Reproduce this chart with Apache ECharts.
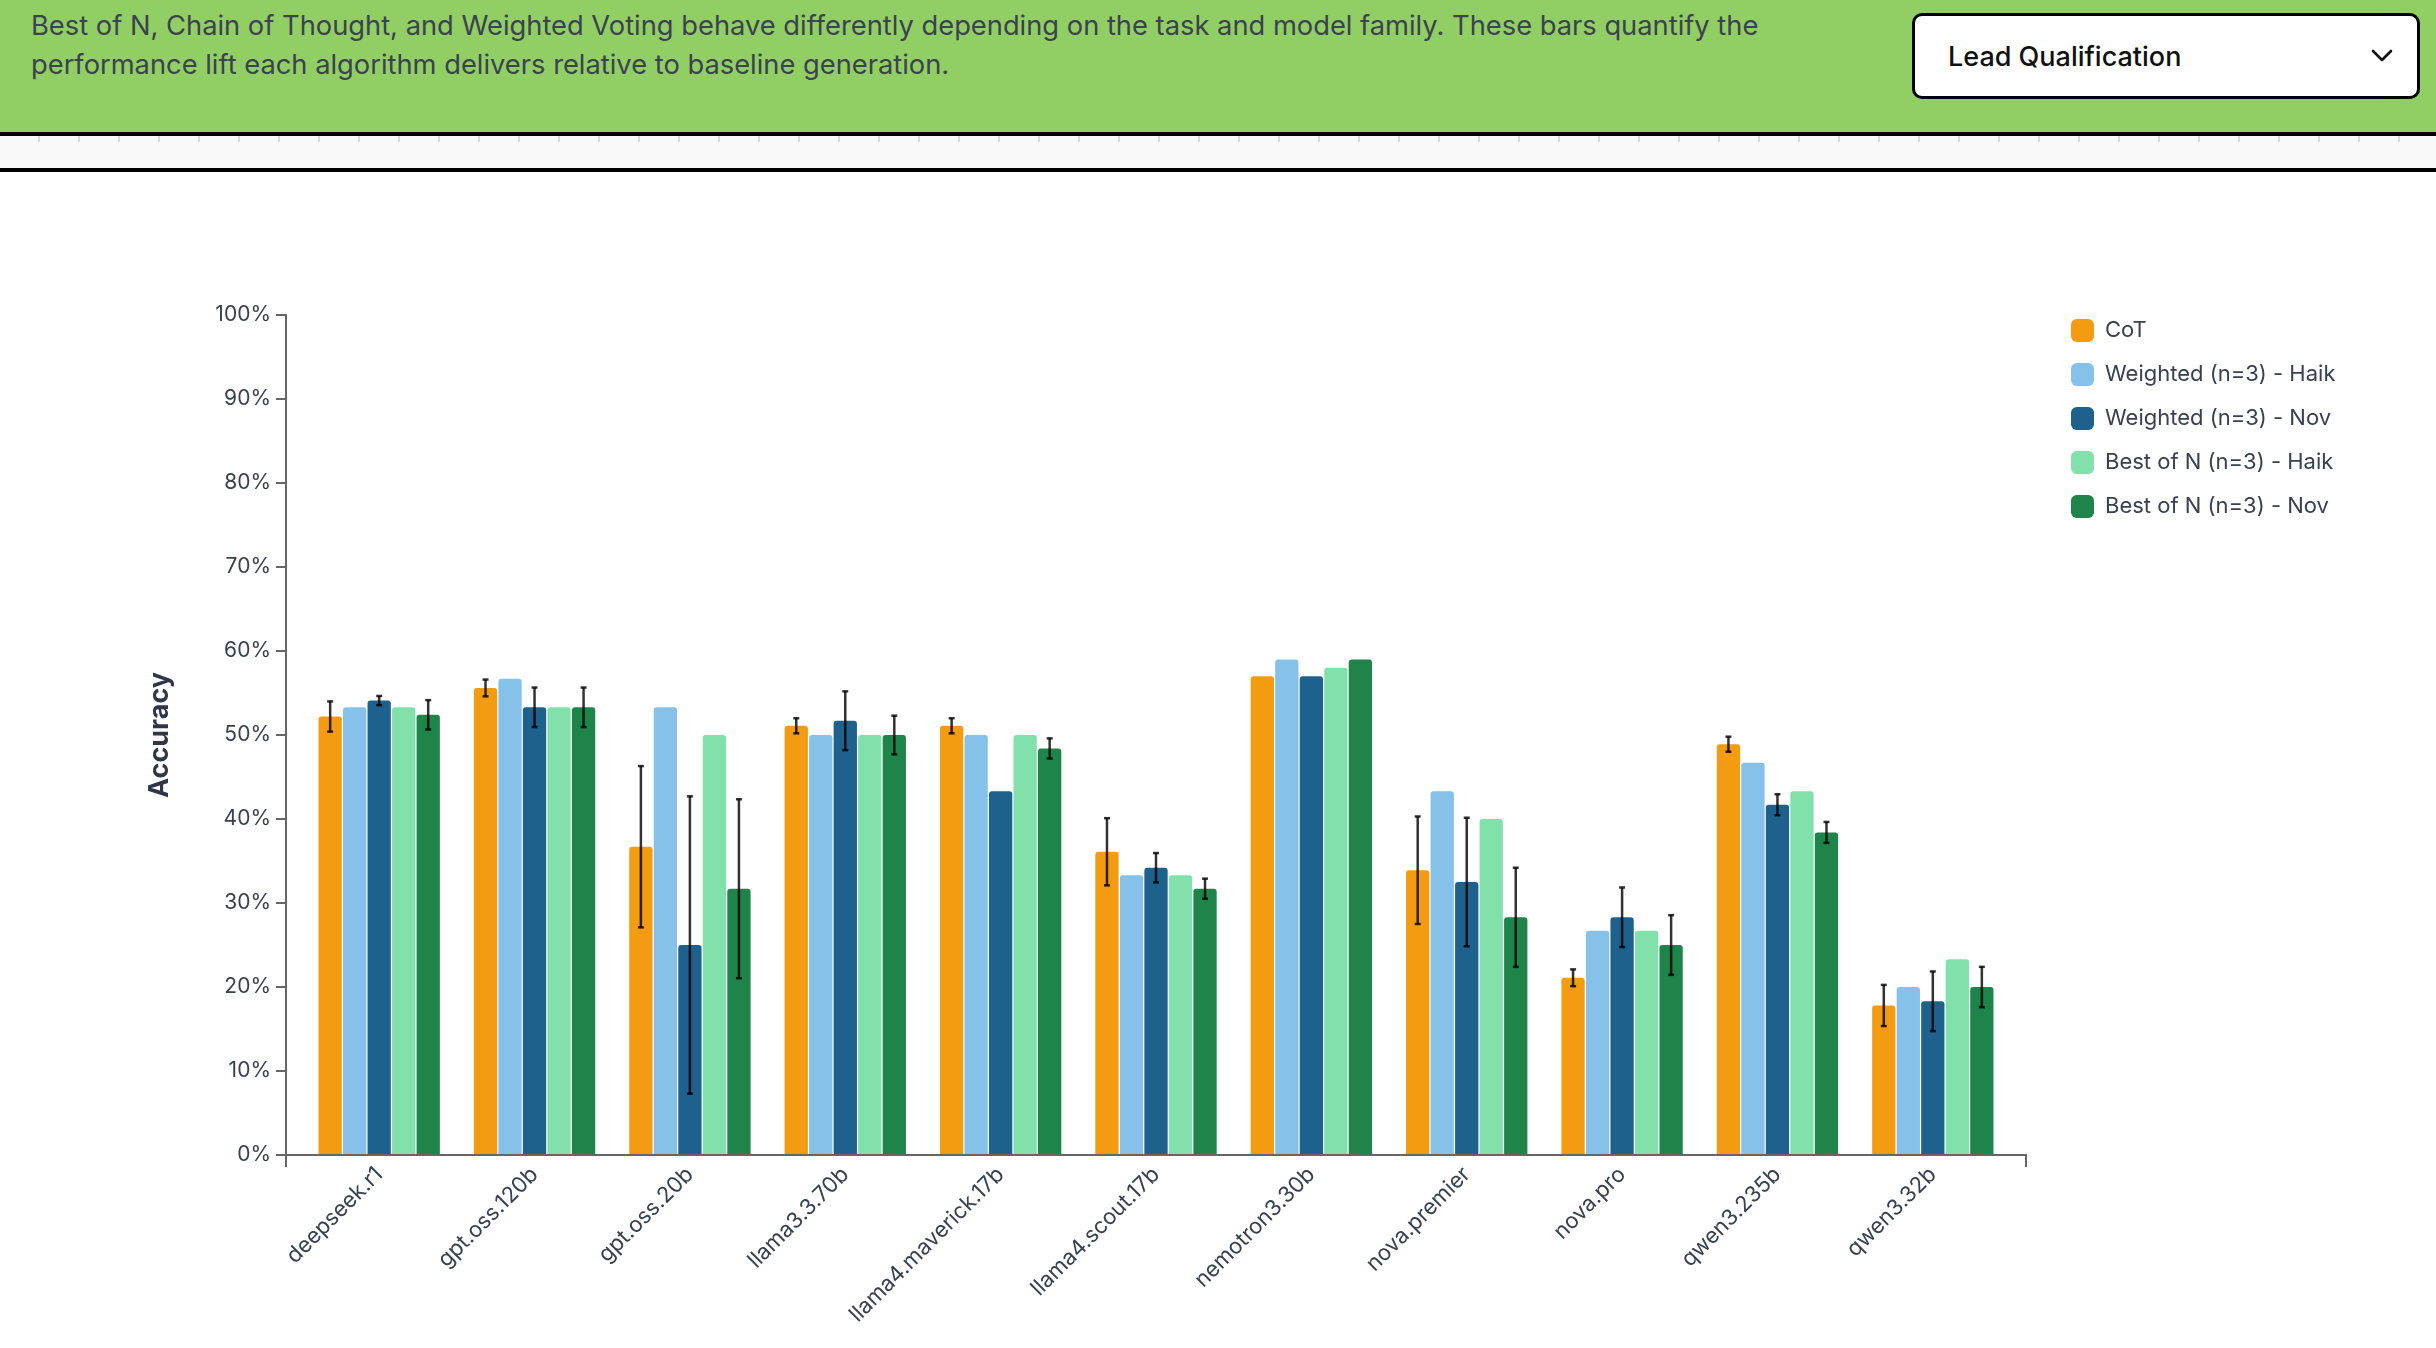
<!DOCTYPE html>
<html>
<head>
<meta charset="utf-8">
<title>Lead Qualification</title>
<script src="https://cdn.jsdelivr.net/npm/echarts@6/dist/echarts.min.js"></script>
<style>
  html, body { margin: 0; padding: 0; background: #fff; font-family: Inter, "Noto Sans", sans-serif; }
  #main { position: absolute; left: 0; top: 0; width: 2436px; height: 1348px; }
  .banner { position: absolute; left: 0; top: 0; width: 2436px; height: 132px; background: #91cf64; z-index: 2; }
  .banner p { position: absolute; left: 31px; top: 6px; margin: 0; width: 1790px; font-size: 27.3px; line-height: 39px; color: #3b4250; }
  .select { position: absolute; left: 1912px; top: 13px; width: 508px; height: 86px; background: #fff;
            border: 3px solid #000; border-radius: 10px; box-sizing: border-box; }
  .select span { position: absolute; left: 33px; top: 24px; font-size: 27px; font-weight: 500; color: #111; }
  .select svg { position: absolute; right: 24px; top: 33px; }
  .rule1 { position: absolute; left: 0; top: 132px; width: 2436px; height: 4px; background: #000; z-index: 2; }
  .strip { position: absolute; left: 0; top: 136px; width: 2436px; height: 32px; z-index: 2;
           background: repeating-linear-gradient(90deg, transparent 0 38px, #d8d8d8 38px 40px) top/100% 6px no-repeat, #f9f9f9; }
  .rule2 { position: absolute; left: 0; top: 168px; width: 2436px; height: 4px; background: #000; z-index: 2; }
</style>
</head>
<body>
<div id="main"></div>
<div class="banner">
  <p>Best of N, Chain of Thought, and Weighted Voting behave differently depending on the task and model family. These bars quantify the performance lift each algorithm delivers relative to baseline generation.</p>
  <div class="select"><span>Lead Qualification</span>
    <svg width="22" height="14" viewBox="0 0 22 14"><polyline points="2,2 11,11 20,2" fill="none" stroke="#111" stroke-width="2.6" stroke-linecap="round" stroke-linejoin="round"/></svg>
  </div>
</div>
<div class="rule1"></div>
<div class="strip"></div>
<div class="rule2"></div>
<script>
var models = ['deepseek.r1', 'gpt.oss.120b', 'gpt.oss.20b', 'llama3.3.70b', 'llama4.maverick.17b',
  'llama4.scout.17b', 'nemotron3.30b', 'nova.premier', 'nova.pro', 'qwen3.235b', 'qwen3.32b'];
var seriesNames = ['CoT', 'Weighted (n=3) - Haiku', 'Weighted (n=3) - Nova',
  'Best of N (n=3) - Haiku', 'Best of N (n=3) - Nova'];

// accuracy (%) and +/- error per series
var cot        = [52.2, 55.6, 36.7, 51.1, 51.1, 36.1, 57.0, 33.9, 21.1, 48.9, 17.8];
var cotErr     = [1.8, 1.0, 9.6, 0.9, 0.9, 4.0, 0, 6.4, 1.0, 0.9, 2.45];
var wHaiku     = [53.3, 56.7, 53.3, 50.0, 50.0, 33.3, 59.0, 43.3, 26.7, 46.7, 20.0];
var wHaikuErr  = [0, 0, 0, 0, 0, 0, 0, 0, 0, 0, 0];
var wNova      = [54.1, 53.3, 25.0, 51.7, 43.3, 34.2, 57.0, 32.5, 28.3, 41.7, 18.3];
var wNovaErr   = [0.55, 2.35, 17.7, 3.5, 0, 1.75, 0, 7.65, 3.55, 1.25, 3.55];
var bHaiku     = [53.3, 53.3, 50.0, 50.0, 50.0, 33.3, 58.0, 40.0, 26.7, 43.3, 23.3];
var bHaikuErr  = [0, 0, 0, 0, 0, 0, 0, 0, 0, 0, 0];
var bNova      = [52.4, 53.3, 31.7, 50.0, 48.4, 31.7, 59.0, 28.3, 25.0, 38.4, 20.0];
var bNovaErr   = [1.75, 2.35, 10.65, 2.3, 1.2, 1.2, 0, 5.9, 3.55, 1.25, 2.4];
var yTicks = [0, 100, 10];

var values = [cot, wHaiku, wNova, bHaiku, bNova];
var errors = [cotErr, wHaikuErr, wNovaErr, bHaikuErr, bNovaErr];
var colors = ['#f39c12', '#85c1e9', '#1f618d', '#82e0aa', '#1e8449'];

var W = 2436, H = 1348;
var BAR_W = 23.3, BAR_GAP = 0.052;
// outer padding of the band scale: axis line runs PAD px past the first/last band
var PAD = 15.5;
var AXIS_L = 286, AXIS_R = 2026, AXIS_B = 1155;
var GRID = { left: AXIS_L + PAD, right: W - AXIS_R + PAD, top: 315, bottom: H - AXIS_B };

function errorSeries(k) {
  var slot = BAR_W * (1 + BAR_GAP);
  var total = values.length * BAR_W + (values.length - 1) * BAR_W * BAR_GAP;
  var offset = -total / 2 + BAR_W / 2 + k * slot;
  var data = [];
  values[k].forEach(function (v, i) {
    if (errors[k][i] > 0) data.push([i, v - errors[k][i], v + errors[k][i]]);
  });
  return {
    type: 'custom',
    name: seriesNames[k] + ' err',
    data: data,
    z: 10,
    silent: true,
    renderItem: function (params, api) {
      var lo = api.coord([api.value(0), api.value(1)]);
      var hi = api.coord([api.value(0), api.value(2)]);
      var x = lo[0] + offset;
      var style = { stroke: 'rgba(0,0,0,0.8)', lineWidth: 2.5 };
      return {
        type: 'group',
        children: [
          { type: 'line', shape: { x1: x, y1: hi[1], x2: x, y2: lo[1] }, style: style },
          { type: 'line', shape: { x1: x - 3, y1: hi[1], x2: x + 3, y2: hi[1] }, style: style },
          { type: 'line', shape: { x1: x - 3, y1: lo[1], x2: x + 3, y2: lo[1] }, style: style }
        ]
      };
    }
  };
}

var series = [];
values.forEach(function (arr, k) {
  series.push({
    type: 'bar',
    name: seriesNames[k],
    data: arr,
    barWidth: BAR_W,
    barGap: (BAR_GAP * 100) + '%',
    itemStyle: { color: colors[k], borderRadius: [3, 3, 0, 0] }
  });
});
values.forEach(function (arr, k) { series.push(errorSeries(k)); });

var axisColor = '#666';
var textColor = '#374151';
var chart = echarts.init(document.getElementById('main'));
chart.setOption({
  animation: false,
  textStyle: { fontFamily: 'Inter, "Noto Sans", sans-serif' },
  grid: GRID,
  legend: {
    data: seriesNames,
    orient: 'vertical',
    left: 2066,
    top: 314,
    itemWidth: 23,
    itemHeight: 23,
    itemGap: 21,
    icon: 'roundRect',
    textStyle: { fontSize: 22, color: textColor, width: 236, overflow: 'truncate', ellipsis: '', padding: [0, 0, 0, 6] }
  },
  xAxis: {
    type: 'category',
    data: models,
    axisLine: { show: false },
    axisTick: { alignWithLabel: true, length: 12, lineStyle: { color: axisColor, width: 2 } },
    axisLabel: { rotate: 45, fontSize: 22, color: textColor, margin: 16, interval: 0 }
  },
  yAxis: {
    type: 'value',
    min: yTicks[0],
    max: yTicks[1],
    interval: yTicks[2],
    offset: PAD,
    name: 'Accuracy',
    nameLocation: 'middle',
    nameRotate: 90,
    nameGap: 113,
    nameTextStyle: { fontSize: 27, fontWeight: 'bold', color: '#2d3748' },
    splitLine: { show: false },
    axisLine: { show: true, lineStyle: { color: axisColor, width: 2 } },
    axisTick: { show: true, length: 10, lineStyle: { color: axisColor, width: 2 } },
    axisLabel: { fontSize: 21, color: textColor, margin: 15, formatter: '{value}%' }
  },
  graphic: [
    // x domain path with outer ticks at both ends
    { type: 'polyline', z: 5,
      shape: { points: [[AXIS_L, AXIS_B + 12], [AXIS_L, AXIS_B], [AXIS_R, AXIS_B], [AXIS_R, AXIS_B + 12]] },
      style: { stroke: axisColor, lineWidth: 2, fill: null } }
  ],
  series: series
});
</script>
</body>
</html>
